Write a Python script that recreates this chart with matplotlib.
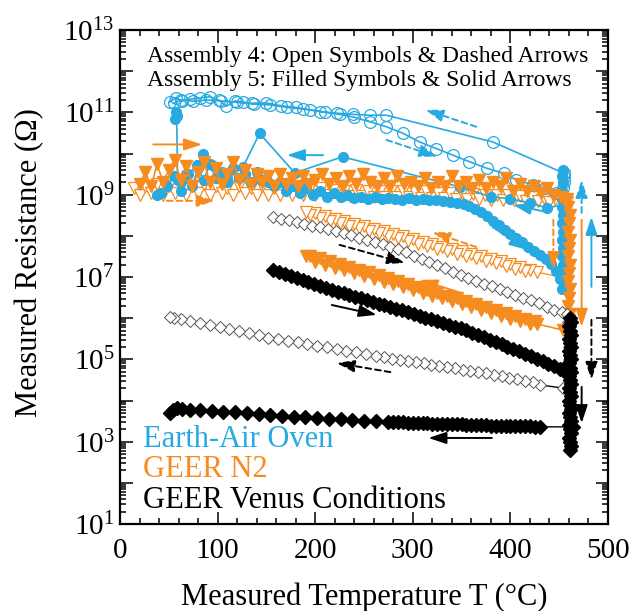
import numpy as np
import matplotlib
matplotlib.use("Agg")
import matplotlib.pyplot as plt
from matplotlib.ticker import LogLocator, FuncFormatter, NullFormatter, MultipleLocator

plt.rcParams['font.family'] = ['Liberation Serif', 'DejaVu Serif']
plt.rcParams['mathtext.fontset'] = 'custom'
plt.rcParams['mathtext.rm'] = 'Liberation Serif'
plt.rcParams['mathtext.it'] = 'Liberation Serif:italic'
plt.rcParams['mathtext.bf'] = 'Liberation Serif:bold'

CYAN = '#27A9E1'
ORANGE = '#F68B1F'
BLACK = '#000000'

# ---------------- data (temperature in C, log10 of resistance in ohm) ----------------
# Earth-Air Oven, Assembly 4 (open circles)
cyan_open_heat_T = [51, 57, 64, 72, 82, 92, 101, 109, 118, 126, 135, 150, 165, 180, 195, 210, 225, 240, 256, 273,
                    290, 307, 324, 341, 358, 376, 393, 406, 423, 435, 447]
cyan_open_heat_logR = [11.25, 11.35, 11.28, 11.32, 11.35, 11.38, 11.3, 11.15, 11.28, 11.25, 11.22, 11.23, 11.16, 11.12,
                       11.06, 11.0, 10.95, 10.88, 10.77, 10.65, 10.49, 10.28, 10.12, 9.96, 9.80, 9.64, 9.52, 9.36,
                       9.24, 9.16, 9.04]
cyan_open_hold_T = [452, 454, 455, 455, 455]
cyan_open_hold_logR = [9.0, 9.15, 9.3, 9.42, 9.52]
cyan_open_cool_T = [455, 382, 273, 256, 239, 222, 205, 188, 171, 154, 137, 120, 103, 88, 75, 63, 55]
cyan_open_cool_logR = [9.52, 10.28, 10.93, 10.93, 10.95, 10.98, 11.02, 11.08, 11.12, 11.18, 11.2, 11.24, 11.28, 11.3,
                       11.27, 11.3, 11.22]

# Earth-Air Oven, Assembly 5 (filled circles)
cyan_fill_heat_T = [56, 57, 58, 59, 62, 68, 74, 80, 86, 92, 98, 104, 110, 116, 122, 128, 134, 140, 146, 152,
                    158, 164, 170, 177, 184, 191, 198, 205, 212, 219, 226, 233, 240, 247, 254, 261, 268, 275, 282, 289,
                    296, 303, 310, 317, 324, 331, 338, 345, 352, 358, 364, 370, 376, 382, 388, 394, 400, 406, 412, 418,
                    424, 430, 436, 442, 447, 451]
cyan_fill_heat_logR = [10.85, 11.0, 10.92, 9.35, 9.1, 9.5, 9.2, 9.65, 9.35, 9.75,
                       9.4, 9.55, 9.3, 9.65, 9.4, 9.5, 9.3, 9.55, 9.35, 9.3,
                       9.2, 9.3, 9.1, 9.2, 9.05, 9.15, 9.0, 9.1, 8.95, 9.05,
                       8.95, 9.0, 8.92, 8.95, 8.9, 8.95, 8.9, 8.93, 8.9, 8.88,
                       8.92, 8.88, 8.9, 8.87, 8.86, 8.85, 8.83, 8.8, 8.78, 8.73,
                       8.66, 8.57, 8.47, 8.37, 8.27, 8.15, 8.04, 7.94, 7.84, 7.74,
                       7.64, 7.54, 7.44, 7.32, 7.15, 6.95]
cyan_fill_hold_T = [453, 454, 453, 454, 453, 454, 453, 454, 453, 454, 453, 454, 453, 454, 453, 454]
cyan_fill_hold_logR = [6.7, 6.9, 7.1, 7.3, 7.5, 7.7, 7.9, 8.1, 8.3, 8.5, 8.7, 8.9, 9.1, 9.3, 9.45, 9.6]
cyan_fill_cool_T = [454, 437, 420, 400, 380, 348, 228, 179, 143, 126, 110, 94, 85, 79, 70, 62, 55, 48, 42, 38]
cyan_fill_cool_logR = [8.75, 8.68, 8.8, 8.9, 8.95, 9.19, 9.92, 9.53, 10.49, 9.67, 9.4, 9.72, 10.0, 9.72, 9.5, 9.3,
                       9.45, 9.2, 9.05, 9.0]

# GEER N2, Assembly 5 (filled triangles)
orange_fill_heat_T = [20, 26, 32, 38, 44, 50, 56, 62, 68, 74, 80, 86, 92, 98, 104, 110, 116, 122, 128, 134,
                      140, 146, 152, 158, 164, 170, 176, 182, 188, 194, 200, 207, 214, 221, 228, 235, 242, 249, 256,
                      263, 270, 277, 284, 291, 298, 305, 312, 319, 326, 333, 340, 347, 354, 361, 368, 375, 382, 389,
                      396, 403, 410, 417, 424, 431, 438, 445, 452, 458]
orange_fill_heat_logR = [9.25, 9.55, 9.2, 9.75, 9.3, 9.6, 9.85, 9.35, 9.7, 9.2,
                         9.55, 9.8, 9.3, 9.65, 9.25, 9.5, 9.8, 9.35, 9.6, 9.25,
                         9.5, 9.3, 9.45, 9.2, 9.5, 9.25, 9.4, 9.2, 9.45, 9.25,
                         9.35, 9.5, 9.25, 9.4, 9.2, 9.45, 9.25, 9.5, 9.3, 9.2,
                         9.4, 9.2, 9.45, 9.25, 9.3, 9.2, 9.4, 9.15, 9.3, 9.2,
                         9.45, 9.2, 9.3, 9.15, 9.35, 9.15, 9.3, 9.2, 9.4, 9.1,
                         9.25, 9.1, 9.2, 9.05, 9.15, 9.0, 8.95, 8.9]
orange_fill_hold_T = [459, 461, 460, 459, 461, 460, 459, 461, 460, 459, 461, 460, 459, 461, 460]
orange_fill_hold_logR = [8.7, 8.5, 8.3, 8.1, 7.9, 7.7, 7.5, 7.3, 7.1, 6.9, 6.7, 6.5, 6.3, 6.1, 5.95]
orange_fill_cool_T = [454, 427, 425, 420, 415, 410, 405, 400, 395, 390, 385, 380, 375, 370, 365, 360, 355, 350,
                      345, 340, 335, 330, 325, 320, 315, 310, 305, 300, 295, 290, 285, 280, 275, 270, 265, 260,
                      255, 250, 245, 240, 235, 230, 225, 220, 215, 210, 205, 200, 195, 191]
orange_fill_cool_logR = [5.71, 5.86, 5.92, 5.86, 5.99, 5.93, 6.06, 5.99, 6.13, 6.06, 6.20, 6.13, 6.27, 6.20, 6.34,
                         6.27, 6.41, 6.34, 6.48, 6.41, 6.55, 6.48, 6.62, 6.55, 6.69, 6.62, 6.76, 6.68, 6.83, 6.75,
                         6.90, 6.82, 6.97, 6.89, 7.04, 6.96, 7.11, 7.03, 7.18, 7.10, 7.25, 7.17, 7.31, 7.23, 7.38,
                         7.30, 7.46, 7.37, 7.52, 7.50]

# GEER N2, Assembly 4 (open triangles)
orange_open_heat_T = [14, 20, 26, 32, 38, 44, 50, 56, 62, 68, 74, 80, 86, 92, 98, 104, 110, 116, 122, 128,
                      134, 140, 146, 152, 158, 164, 170, 176, 182, 188, 194, 200, 206, 212, 218, 224, 230, 236, 242,
                      248, 254, 260, 266, 272, 278, 284, 290, 296, 302, 308, 314, 320, 326, 332, 338, 344, 350, 356,
                      362, 368, 374, 380, 386, 392, 398, 404, 410, 416, 422, 428, 434, 440, 446, 452, 458]
orange_open_heat_logR = [9.15, 9.0, 9.2, 9.05, 9.25, 9.0, 9.2, 9.05, 9.3, 9.0,
                         9.2, 9.05, 9.25, 9.0, 9.2, 9.05, 9.15, 9.0, 9.2, 9.05,
                         9.15, 9.0, 9.2, 9.0, 9.15, 9.0, 9.15, 8.98, 9.15, 9.0,
                         9.12, 8.98, 9.15, 8.98, 9.12, 8.97, 9.1, 8.96, 9.12, 8.97,
                         9.1, 8.95, 9.1, 8.95, 9.08, 8.94, 9.1, 8.95, 9.06, 8.93,
                         9.08, 8.93, 9.05, 8.92, 9.05, 8.9, 9.05, 8.9, 9.02, 8.9,
                         9.0, 8.88, 9.0, 8.87, 8.98, 8.86, 8.97, 8.85, 8.95, 8.84,
                         8.93, 8.83, 8.9, 8.85, 8.82]
orange_open_hold_T = [458, 458, 458, 458, 458, 458, 458]
orange_open_hold_logR = [8.7, 8.4, 8.1, 7.8, 7.5, 7.25, 7.05]
orange_open_cool_T = [451, 427, 420, 415, 410, 405, 400, 395, 390, 385, 380, 375, 370, 365, 360, 355, 350, 345,
                      340, 335, 330, 325, 320, 315, 310, 305, 300, 295, 290, 285, 280, 275, 270, 265, 260, 255,
                      250, 245, 240, 235, 230, 225, 220, 215, 210, 205, 200, 195, 191]
orange_open_cool_logR = [7.0, 7.12, 7.18, 7.14, 7.25, 7.20, 7.32, 7.27, 7.38, 7.33, 7.44, 7.39, 7.50, 7.45, 7.56,
                         7.51, 7.62, 7.57, 7.68, 7.63, 7.74, 7.69, 7.80, 7.75, 7.86, 7.81, 7.92, 7.88, 7.99, 7.94,
                         8.05, 8.00, 8.11, 8.06, 8.17, 8.12, 8.23, 8.18, 8.29, 8.24, 8.36, 8.30, 8.42, 8.36, 8.48,
                         8.43, 8.55, 8.50, 8.58]

# GEER Venus Conditions, Assembly 4 (open diamonds)
black_open_heat_T = [157, 165, 173, 181, 189, 197, 205, 213, 221, 229, 237, 245, 253, 261, 269, 277, 285, 293, 301,
                     309, 317, 325, 333, 341, 349, 357, 365, 373, 381, 389, 397, 405, 413, 421, 429, 437, 445, 453]
black_open_heat_logR = [8.46, 8.42, 8.38, 8.33, 8.29, 8.25, 8.21, 8.17, 8.12, 8.06, 8.01, 7.95, 7.90, 7.84, 7.79,
                        7.73, 7.67, 7.60, 7.52, 7.44, 7.37, 7.29, 7.21, 7.13, 7.05, 6.98, 6.91, 6.84, 6.77, 6.70,
                        6.64, 6.57, 6.50, 6.43, 6.36, 6.28, 6.21, 6.14]
black_open_hold_T = [458, 459, 460, 460, 460, 460, 460, 460, 460, 460]
black_open_hold_logR = [6.1, 5.9, 5.7, 5.5, 5.3, 5.1, 4.9, 4.7, 4.5, 4.3]
black_open_cool_T = [454, 430, 423, 415, 407, 399, 391, 383, 375, 367, 359, 351, 343, 335, 327, 319, 311, 303, 295,
                     287, 279, 271, 262, 252, 242, 232, 222, 212, 202, 192, 182, 172, 162, 152, 142, 132, 122, 112,
                     102, 92, 82, 72, 62, 55, 51]
black_open_cool_logR = [4.30, 4.38, 4.45, 4.48, 4.52, 4.55, 4.59, 4.62, 4.66, 4.69, 4.72, 4.75, 4.78, 4.81, 4.84,
                        4.87, 4.90, 4.93, 4.96, 4.99, 5.02, 5.05, 5.09, 5.13, 5.17, 5.21, 5.25, 5.29, 5.33, 5.37,
                        5.41, 5.45, 5.49, 5.53, 5.58, 5.63, 5.68, 5.73, 5.78, 5.83, 5.88, 5.93, 5.98, 6.01, 6.03]

# GEER Venus Conditions, Assembly 5 (filled diamonds)
black_fill_heat_T = [157, 163, 169, 175, 181, 187, 193, 199, 205, 211, 217, 223, 229, 235, 241, 247, 253, 259, 265,
                     271, 277, 283, 289, 295, 301, 307, 313, 319, 325, 331, 337, 343, 349, 355, 361, 367, 373, 379,
                     385, 391, 397, 403, 409, 415, 421, 427, 433, 439, 445, 451, 454]
black_fill_heat_logR = [7.17, 7.12, 7.07, 7.03, 6.98, 6.93, 6.88, 6.83, 6.78, 6.73, 6.69, 6.64, 6.60, 6.56, 6.52,
                        6.48, 6.44, 6.39, 6.35, 6.31, 6.27, 6.23, 6.19, 6.14, 6.10, 6.06, 6.01, 5.97, 5.93, 5.88,
                        5.84, 5.79, 5.75, 5.71, 5.65, 5.60, 5.54, 5.48, 5.43, 5.37, 5.31, 5.26, 5.20, 5.14, 5.08,
                        5.02, 4.95, 4.89, 4.83, 4.77, 4.74]
black_fill_hold_T = [461, 462, 460, 461, 462, 460, 461, 462, 460, 461, 462, 460, 461, 462, 460, 461, 462, 460, 461,
                     462, 460, 461, 462, 460, 461, 462, 460, 461, 462, 460, 461, 462, 461]
black_fill_hold_logR = [6.0, 5.9, 5.8, 5.7, 5.6, 5.5, 5.4, 5.3, 5.2, 5.1, 5.0, 4.9, 4.8, 4.7, 4.6, 4.5, 4.4, 4.3,
                        4.2, 4.1, 4.0, 3.9, 3.8, 3.7, 3.6, 3.5, 3.4, 3.3, 3.2, 3.1, 3.0, 2.9, 2.8]
black_fill_cool_T = [464, 430, 425, 420, 415, 410, 405, 400, 395, 390, 385, 380, 375, 370, 365, 360, 355, 350, 345,
                     340, 335, 330, 325, 320, 315, 310, 305, 300, 295, 290, 285, 280, 275, 262, 250, 238, 226, 214,
                     202, 190, 178, 166, 154, 142, 130, 118, 106, 94, 82, 72, 64, 58, 54, 51]
black_fill_cool_logR = [3.36, 3.36, 3.36, 3.37, 3.37, 3.37, 3.38, 3.38, 3.38, 3.39, 3.39, 3.39, 3.40, 3.40, 3.41,
                        3.41, 3.41, 3.42, 3.42, 3.43, 3.43, 3.43, 3.44, 3.44, 3.45, 3.45, 3.45, 3.46, 3.46, 3.47,
                        3.47, 3.47, 3.48, 3.50, 3.51, 3.53, 3.54, 3.56, 3.58, 3.59, 3.61, 3.63, 3.65, 3.66, 3.69,
                        3.71, 3.73, 3.75, 3.76, 3.78, 3.80, 3.82, 3.78, 3.70]

# direction arrows: (T start, log R start, T end, log R end, colour, dashed?)
arrows = [
    (34, 10.22, 84, 10.22, ORANGE, False),
    (48, 8.85, 97, 8.85, ORANGE, True),
    (208, 9.96, 171, 9.96, CYAN, False),
    (365, 10.65, 313, 11.06, CYAN, True),
    (273, 10.33, 325, 9.92, CYAN, True),
    (437, 8.58, 403, 8.75, CYAN, False),
    (382, 8.21, 417, 7.66, CYAN, False),
    (365, 7.73, 320, 8.09, ORANGE, True),
    (225, 7.78, 292, 7.34, BLACK, True),
    (350, 6.61, 307, 6.93, ORANGE, False),
    (217, 6.32, 263, 6.08, BLACK, False),
    (277, 4.69, 222, 4.91, BLACK, True),
    (381, 3.09, 316, 3.09, BLACK, False),
    (473, 8.56, 473, 9.36, CYAN, True),
    (483, 6.76, 483, 8.46, CYAN, False),
    (473, 8.39, 473, 5.79, ORANGE, False),
    (444, 8.39, 444, 7.17, ORANGE, True),
    (483, 5.96, 483, 4.50, BLACK, True),
    (473, 4.33, 473, 3.45, BLACK, False),
]


def series(*parts):
    T = []
    L = []
    for t, l in parts:
        T += list(t)
        L += list(l)
    return np.array(T, dtype=float), 10.0 ** np.array(L, dtype=float)


fig = plt.figure(figsize=(6.33, 6.11), dpi=100)
ax = fig.add_axes([120 / 633, 87 / 611, 488 / 633, 494 / 611])
ax.set_yscale('log')

# orange open triangles
T, R = series((orange_open_heat_T, orange_open_heat_logR), (orange_open_hold_T, orange_open_hold_logR),
              (orange_open_cool_T, orange_open_cool_logR))
ax.plot(T, R, color=ORANGE, lw=0.9, marker='v', ms=8, mfc='white', mec=ORANGE, mew=0.9, zorder=2)

# cyan open circles
T, R = series((cyan_open_heat_T, cyan_open_heat_logR), (cyan_open_hold_T, cyan_open_hold_logR),
              (cyan_open_cool_T, cyan_open_cool_logR))
ax.plot(T, R, color=CYAN, lw=1.2, marker='o', ms=8.5, mfc='none', mec=CYAN, mew=0.9, zorder=3)

# cyan filled circles
T, R = series((cyan_fill_heat_T, cyan_fill_heat_logR), (cyan_fill_hold_T, cyan_fill_hold_logR),
              (cyan_fill_cool_T, cyan_fill_cool_logR))
ax.plot(T, R, color=CYAN, lw=1.2, marker='o', ms=7, mfc=CYAN, mec=CYAN, zorder=4)

# orange filled triangles
T, R = series((orange_fill_heat_T, orange_fill_heat_logR), (orange_fill_hold_T, orange_fill_hold_logR),
              (orange_fill_cool_T, orange_fill_cool_logR))
ax.plot(T, R, color=ORANGE, lw=1.2, marker='v', ms=8.5, mfc=ORANGE, mec=ORANGE, zorder=5)

# black open diamonds
T, R = series((black_open_heat_T, black_open_heat_logR), (black_open_hold_T, black_open_hold_logR),
              (black_open_cool_T, black_open_cool_logR))
ax.plot(T, R, color=BLACK, lw=1.0, marker='D', ms=6.3, mfc='white', mec='#555555', mew=0.7, zorder=6)

# black filled diamonds
T, R = series((black_fill_heat_T, black_fill_heat_logR), (black_fill_hold_T, black_fill_hold_logR),
              (black_fill_cool_T, black_fill_cool_logR))
ax.plot(T, R, color=BLACK, lw=1.0, marker='D', ms=7.3, mfc=BLACK, mec=BLACK, zorder=7)

for x0, l0, x1, l1, c, dashed in arrows:
    ax.annotate('', xy=(x1, 10 ** l1), xytext=(x0, 10 ** l0),
                arrowprops=dict(arrowstyle='-|>,head_length=0.9,head_width=0.3', color=c, lw=1.4,
                                linestyle=(0, (3, 2)) if dashed else '-', shrinkA=0, shrinkB=0,
                                mutation_scale=12),
                zorder=8)

ax.set_xlim(0, 500)
ax.set_ylim(1e1, 1e13)

ax.xaxis.set_major_locator(MultipleLocator(100))
ax.xaxis.set_minor_locator(MultipleLocator(20))
ax.yaxis.set_major_locator(LogLocator(base=10, numticks=30))
ax.yaxis.set_minor_locator(LogLocator(base=10, subs=np.arange(2, 10), numticks=100))
ax.yaxis.set_minor_formatter(NullFormatter())


def yfmt(v, pos):
    e = int(round(np.log10(v)))
    if e % 2 == 1:
        return r'$10^{%d}$' % e
    return ''


ax.yaxis.set_major_formatter(FuncFormatter(yfmt))
ax.tick_params(which='both', direction='in', top=True, right=True, width=1.1)
ax.tick_params(which='major', length=9, labelsize=21)
ax.tick_params(which='minor', length=4.5)
ax.tick_params(axis='x', which='major', pad=10)
ax.tick_params(axis='y', which='major', pad=4)
for s in ax.spines.values():
    s.set_linewidth(1.6)

ax.text(0.055, 0.935, 'Assembly 4: Open Symbols & Dashed Arrows', transform=ax.transAxes,
        fontsize=17, va='baseline', ha='left', zorder=10)
ax.text(0.055, 0.887, 'Assembly 5: Filled Symbols & Solid Arrows', transform=ax.transAxes,
        fontsize=17, va='baseline', ha='left', zorder=10)

ax.text(0.047, 0.156, 'Earth-Air Oven', color=CYAN, transform=ax.transAxes, fontsize=22, va='baseline')
ax.text(0.047, 0.095, 'GEER N2', color=ORANGE, transform=ax.transAxes, fontsize=22, va='baseline')
ax.text(0.047, 0.032, 'GEER Venus Conditions', color=BLACK, transform=ax.transAxes, fontsize=22, va='baseline')

fig.text(364 / 633, 1 - 605 / 611, 'Measured Temperature T (°C)', ha='center', va='baseline', fontsize=22)
fig.text(30 / 633, 1 - 263 / 611, 'Measured Resistance (Ω)', ha='center', va='center', rotation=90, fontsize=22)

fig.savefig('out.png', dpi=100)
